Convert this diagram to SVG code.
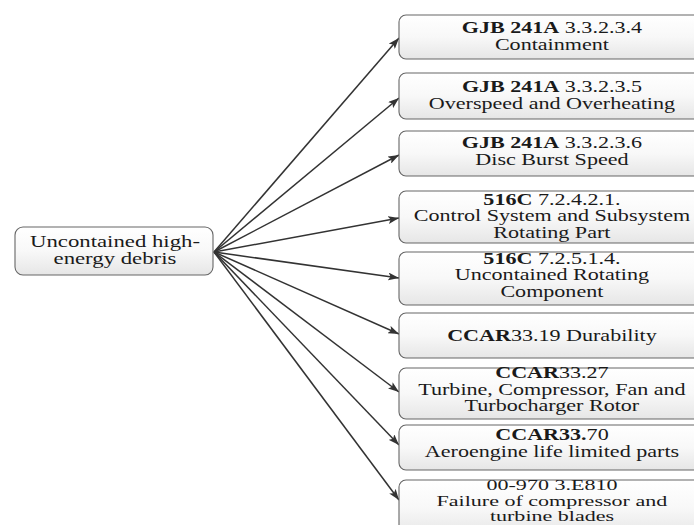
<svg xmlns="http://www.w3.org/2000/svg" width="694" height="525" viewBox="0 0 694 525">
<defs>
<linearGradient id="g" x1="0" y1="0" x2="0" y2="1">
<stop offset="0" stop-color="#ffffff"/>
<stop offset="0.5" stop-color="#f8f8f8"/>
<stop offset="1" stop-color="#e6e6e6"/>
</linearGradient>
<marker id="ah" viewBox="0 0 11 8" refX="11" refY="4" markerWidth="11" markerHeight="8" markerUnits="userSpaceOnUse" orient="auto">
<path d="M0,0 L11,4 L0,8 L2.5,4 Z" fill="#333"/>
</marker>
<style>
.box{fill:url(#g);stroke:#666;stroke-width:1.1}
.t{font-family:"Liberation Serif","Times New Roman",serif;font-size:16px;fill:#1a1a1a;text-anchor:middle;transform-box:fill-box;transform-origin:center;transform:scaleX(1.38)}
.s{font-size:15px;transform:scaleX(1.47)}
.b{font-weight:bold}
.c{fill:none;stroke:#333;stroke-width:1.5;marker-end:url(#ah)}
</style>
</defs>
<rect width="694" height="525" fill="#fff"/>
<g id="connectors">
<line class="c" x1="214" y1="252" x2="399" y2="38"/>
<line class="c" x1="214" y1="252" x2="399" y2="98"/>
<line class="c" x1="214" y1="252" x2="399" y2="155"/>
<line class="c" x1="214" y1="252" x2="399" y2="218"/>
<line class="c" x1="214" y1="252" x2="399" y2="278"/>
<line class="c" x1="214" y1="252" x2="399" y2="334"/>
<line class="c" x1="214" y1="252" x2="399" y2="392"/>
<line class="c" x1="214" y1="252" x2="399" y2="445"/>
<line class="c" x1="214" y1="252" x2="399" y2="500"/>
</g>
<g id="root">
<rect class="box" x="15" y="227" width="198" height="48" rx="8"/>
<text class="t" x="115" y="247" style="font-size:16.5px">Uncontained high-</text>
<text class="t" x="115" y="264" style="font-size:16.5px">energy debris</text>
</g>
<g id="n1">
<rect class="box" x="399" y="15" width="310" height="44" rx="7"/>
<text class="t" x="552" y="33"><tspan class="b">GJB 241A</tspan> 3.3.2.3.4</text>
<text class="t" x="552" y="50">Containment</text>
</g>
<g id="n2">
<rect class="box" x="399" y="73" width="310" height="46" rx="7"/>
<text class="t" x="552" y="92"><tspan class="b">GJB 241A</tspan> 3.3.2.3.5</text>
<text class="t" x="552" y="109">Overspeed and Overheating</text>
</g>
<g id="n3">
<rect class="box" x="399" y="131" width="310" height="45" rx="7"/>
<text class="t" x="552" y="148"><tspan class="b">GJB 241A</tspan> 3.3.2.3.6</text>
<text class="t" x="552" y="165">Disc Burst Speed</text>
</g>
<g id="n4">
<rect class="box" x="399" y="191" width="310" height="52" rx="7"/>
<text class="t" x="552" y="205"><tspan class="b">516C</tspan> 7.2.4.2.1.</text>
<text class="t" x="552" y="221.5">Control System and Subsystem</text>
<text class="t" x="552" y="238">Rotating Part</text>
</g>
<g id="n5">
<rect class="box" x="399" y="252" width="310" height="53" rx="7"/>
<text class="t" x="552" y="264"><tspan class="b">516C</tspan> 7.2.5.1.4.</text>
<text class="t" x="552" y="280.5">Uncontained  Rotating</text>
<text class="t" x="552" y="297">Component</text>
</g>
<g id="n6">
<rect class="box" x="399" y="313" width="310" height="45" rx="7"/>
<text class="t" x="552" y="341"><tspan class="b">CCAR</tspan>33.19 Durability</text>
</g>
<g id="n7">
<rect class="box" x="399" y="368" width="310" height="51" rx="7"/>
<text class="t" x="552" y="378"><tspan class="b">CCAR</tspan>33.27</text>
<text class="t" x="552" y="395">Turbine, Compressor, Fan and</text>
<text class="t" x="552" y="411.5">Turbocharger Rotor</text>
</g>
<g id="n8">
<rect class="box" x="399" y="425" width="310" height="45" rx="7"/>
<text class="t" x="552" y="440"><tspan class="b">CCAR33.</tspan>70</text>
<text class="t" x="552" y="457">Aeroengine life limited parts</text>
</g>
<g id="n9">
<rect class="box" x="399" y="480" width="310" height="56" rx="7"/>
<text class="t s" x="552" y="490.5">00-970 3.E810</text>
<text class="t s" x="552" y="506">Failure of compressor and</text>
<text class="t s" x="552" y="521.5">turbine blades</text>
</g>
</svg>
